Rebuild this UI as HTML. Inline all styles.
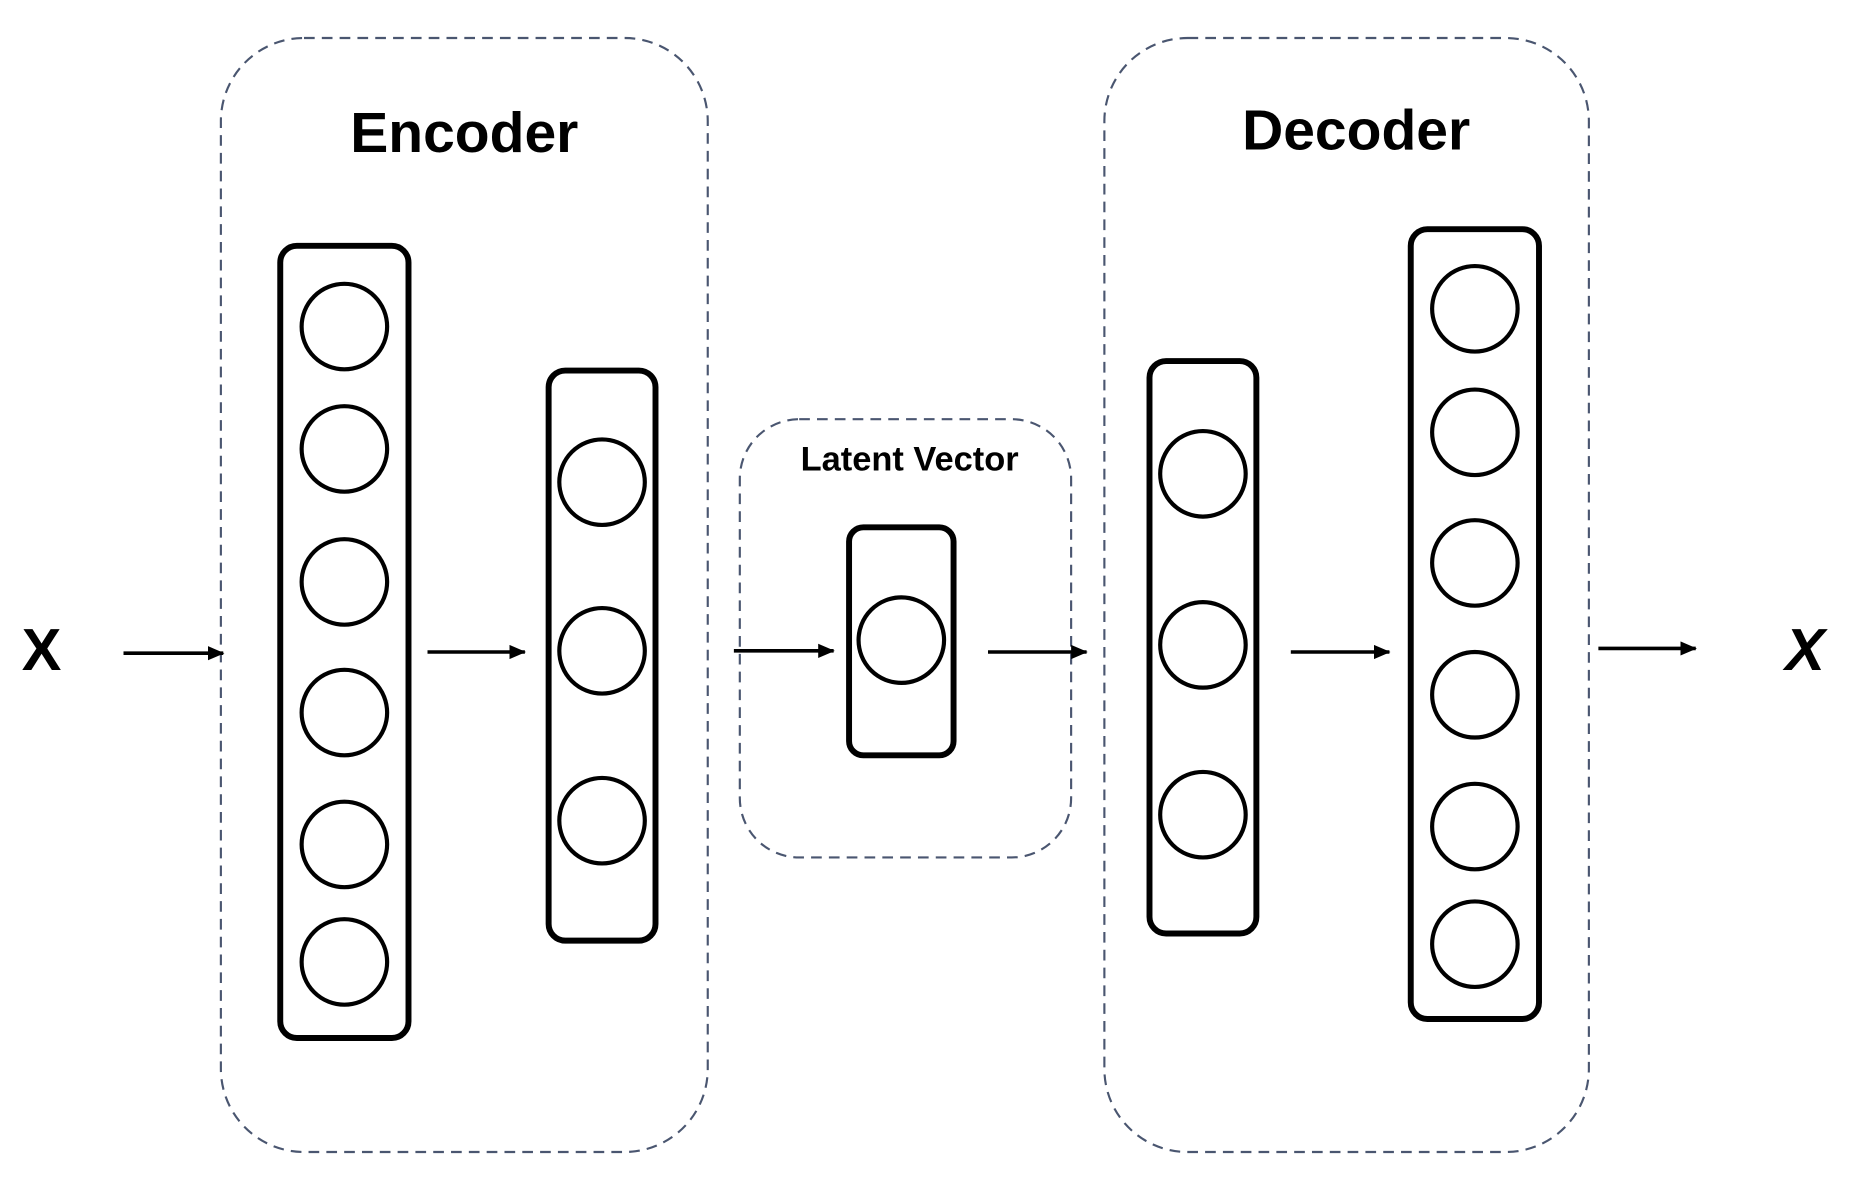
<!DOCTYPE html>
<html>
<head>
<meta charset="utf-8">
<style>
html,body{margin:0;padding:0;background:#fff;}
svg{display:block;}
text{font-family:"Liberation Sans","DejaVu Sans",sans-serif;font-weight:bold;fill:#000;}
</style>
</head>
<body>
<svg width="1862" height="1190" viewBox="0 0 1568 1002" preserveAspectRatio="none" xmlns="http://www.w3.org/2000/svg">
<defs>
<marker id="ah" markerWidth="14" markerHeight="12" refX="13" refY="6" orient="auto" markerUnits="userSpaceOnUse">
<path d="M0,0 L14,6 L0,12 Z" fill="#000"/>
</marker>
</defs>
<rect width="1568" height="1002" fill="#fff"/>
<g fill="none" stroke="#4a5670" stroke-width="1.8" stroke-dasharray="9,6">
<rect x="186" y="32" width="410" height="938" rx="70"/>
<rect x="930" y="32" width="408" height="938" rx="70"/>
<rect x="623" y="353" width="279" height="369" rx="50"/>
</g>
<text x="391" y="128" font-size="48" text-anchor="middle">Encoder</text>
<text x="1142" y="126" font-size="48" text-anchor="middle">Decoder</text>
<text x="766" y="396" font-size="29" text-anchor="middle">Latent Vector</text>
<g fill="none" stroke="#000" stroke-width="5">
<rect x="236" y="207" width="108" height="667" rx="14"/>
<rect x="462" y="312" width="90" height="480" rx="14"/>
<rect x="715" y="444" width="88" height="192" rx="12"/>
<rect x="968" y="304" width="90" height="482" rx="14"/>
<rect x="1188" y="193" width="108" height="665" rx="14"/>
</g>
<g fill="none" stroke="#000" stroke-width="3.5">
<circle cx="290" cy="275" r="36"/>
<circle cx="290" cy="378" r="36"/>
<circle cx="290" cy="490" r="36"/>
<circle cx="290" cy="600" r="36"/>
<circle cx="290" cy="711" r="36"/>
<circle cx="290" cy="810" r="36"/>
<circle cx="507" cy="406" r="36"/>
<circle cx="507" cy="548" r="36"/>
<circle cx="507" cy="691" r="36"/>
<circle cx="759" cy="539" r="36"/>
<circle cx="1013" cy="399" r="36"/>
<circle cx="1013" cy="543" r="36"/>
<circle cx="1013" cy="686" r="36"/>
<circle cx="1242" cy="260" r="36"/>
<circle cx="1242" cy="364" r="36"/>
<circle cx="1242" cy="474" r="36"/>
<circle cx="1242" cy="585" r="36"/>
<circle cx="1242" cy="696" r="36"/>
<circle cx="1242" cy="795" r="36"/>
</g>
<g stroke="#000" stroke-width="3" marker-end="url(#ah)">
<line x1="104" y1="550" x2="188" y2="550"/>
<line x1="360" y1="549" x2="442" y2="549"/>
<line x1="618" y1="548" x2="702" y2="548"/>
<line x1="832" y1="549" x2="915" y2="549"/>
<line x1="1087" y1="549" x2="1170" y2="549"/>
<line x1="1346" y1="546" x2="1428" y2="546"/>
</g>
<text x="35" y="564" font-size="50" text-anchor="middle">X</text>
<text x="1520" y="564" font-size="50" font-style="italic" text-anchor="middle">X</text>
</svg>
</body>
</html>
